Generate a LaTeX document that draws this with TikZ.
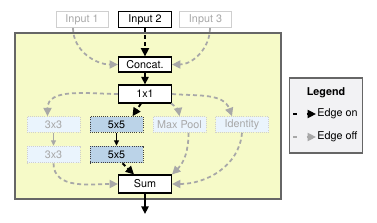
\documentclass[tikz,border=0pt]{standalone}
\usepackage{fontspec}
\setmainfont{TeX Gyre Heros}
\usetikzlibrary{positioning, arrows.meta, calc}
\definecolor{cellpanel}{HTML}{F6FAC8}
\definecolor{cellframe}{HTML}{666666}
\definecolor{opblue}{HTML}{BBD3E8}
\definecolor{oppale}{HTML}{EAF4FD}
\definecolor{offgray}{HTML}{A8A8A8}
\definecolor{offline}{HTML}{CFCFCF}
\definecolor{legendbg}{HTML}{F2F2F4}

\tikzset{
  every node/.style={font=\fontsize{9.2}{11}\selectfont, inner sep=1pt},
  onbox/.style={draw=black, fill=white, line width=0.9pt, minimum width=15.9mm, minimum height=4.8mm},
  offbox/.style={draw=offline, fill=white, text=offgray, line width=0.7pt, minimum width=15.6mm, minimum height=4.8mm},
  opon/.style={draw=black!75, densely dotted, fill=opblue, line width=0.8pt, minimum width=15.9mm, minimum height=4.7mm},
  opoff/.style={draw=offline, densely dotted, fill=oppale, text=offgray, line width=0.8pt, minimum width=15.9mm, minimum height=4.7mm},
  edgeon/.style={draw=black, line width=1.6pt, dash pattern=on 1.2mm off 0.9mm, -{Triangle[length=2.5mm,width=2.4mm]}},
  edgeoff/.style={draw=offgray, line width=1.5pt, dash pattern=on 1.2mm off 0.9mm, -{Triangle[length=2.5mm,width=2.4mm]}},
  flowon/.style={draw=black, line width=1.4pt, -{Triangle[length=2.3mm,width=2.2mm]}},
  inneron/.style={draw=black, line width=0.7pt, -{Triangle[length=1.6mm,width=1.5mm]}},
  inneroff/.style={draw=offgray, line width=0.7pt, -{Triangle[length=1.6mm,width=1.5mm]}}
}

\begin{document}
\begin{tikzpicture}[x=0.3mm, y=-0.3mm]
  \useasboundingbox (0,0) rectangle (377,222);

  % cell panel
  \draw[draw=cellframe, fill=cellpanel, line width=1.1pt] (15,33) rectangle (281,199);

  % inputs
  \node[offbox] (in1) at (82,19.5) {Input 1};
  \node[onbox] (in2) at (145,19.5) {Input 2};
  \node[offbox] (in3) at (205.5,19.5) {Input 3};

  \node[onbox, minimum height=4.5mm] (concat) at (145,64.5) {Concat.};
  \node[onbox, minimum height=5.4mm] (onexone) at (145,94) {1x1};

  % operations
  \node[opoff] (threeA) at (53.5,124.5) {3x3};
  \node[opon] (fiveA) at (116.5,124.5) {5x5};
  \node[opoff] (pool) at (179.5,124.5) {Max Pool};
  \node[opoff] (ident) at (242,124.5) {Identity};
  \node[opoff, minimum height=5mm] (threeB) at (53.5,154.5) {3x3};
  \node[opon, minimum height=5mm] (fiveB) at (116.5,154.5) {5x5};

  \node[onbox, minimum height=5.4mm] (sum) at (145,184) {Sum};
  \coordinate (out) at (145,214);

  % edges
  \draw[edgeoff] ($(in1.south)+(-9,0)$) to[out=-90,in=180] (concat.west);
  \draw[edgeon] (in2) -- (concat);
  \draw[edgeoff] ($(in3.south)+(4.5,0)$) to[out=-90,in=0] (concat.east);
  \draw[flowon] (concat) -- (onexone);

  \draw[edgeoff] (onexone.west) to[out=180,in=90] ($(threeA.north)+(-6,0)$);
  \draw[edgeon] ($(onexone.south)+(-4,0)$) -- ($(fiveA.north)+(16,0)$);
  \draw[edgeoff] (onexone.-20) to[out=-35,in=100] (pool.north);
  \draw[edgeoff] (onexone.east) to[out=-5,in=110] ($(ident.north)+(-10,0)$);

  \draw[inneroff] (threeA) -- (threeB);
  \draw[inneron] (fiveA) -- (fiveB);

  \draw[edgeoff] (threeB.south) to[out=-90,in=180] (sum.west);
  \draw[edgeon] ($(fiveB.south)+(6,0)$) -- ($(sum.north)+(-11,0)$);
  \draw[edgeoff] ($(pool.south)+(9,0)$) to[out=-90,in=45] (sum.north east);
  \draw[edgeoff] (ident.south) to[out=-95,in=0] (sum.east);
  \draw[flowon] (sum) -- (out);

  % legend
  \node[draw=cellframe, fill=legendbg, line width=0.9pt, minimum width=21.9mm, minimum height=22.5mm] (legend) at (326,115.5) {};
  \node[font=\fontsize{9.2}{11}\selectfont\bfseries] (legtitle) at (326,93) {Legend};
  \coordinate (legon) at (293,114);
  \node[anchor=west] (ontext) at (316,114) {Edge on};
  \coordinate (legoff) at (293,137);
  \node[anchor=west] (offtext) at (316,137) {Edge off};
  \draw[edgeon, dash pattern=on 1.1mm off 3mm] (legon) -- (ontext.west);
  \draw[edgeoff, dash pattern=on 1.1mm off 3mm] (legoff) -- (offtext.west);
\end{tikzpicture}
\end{document}
